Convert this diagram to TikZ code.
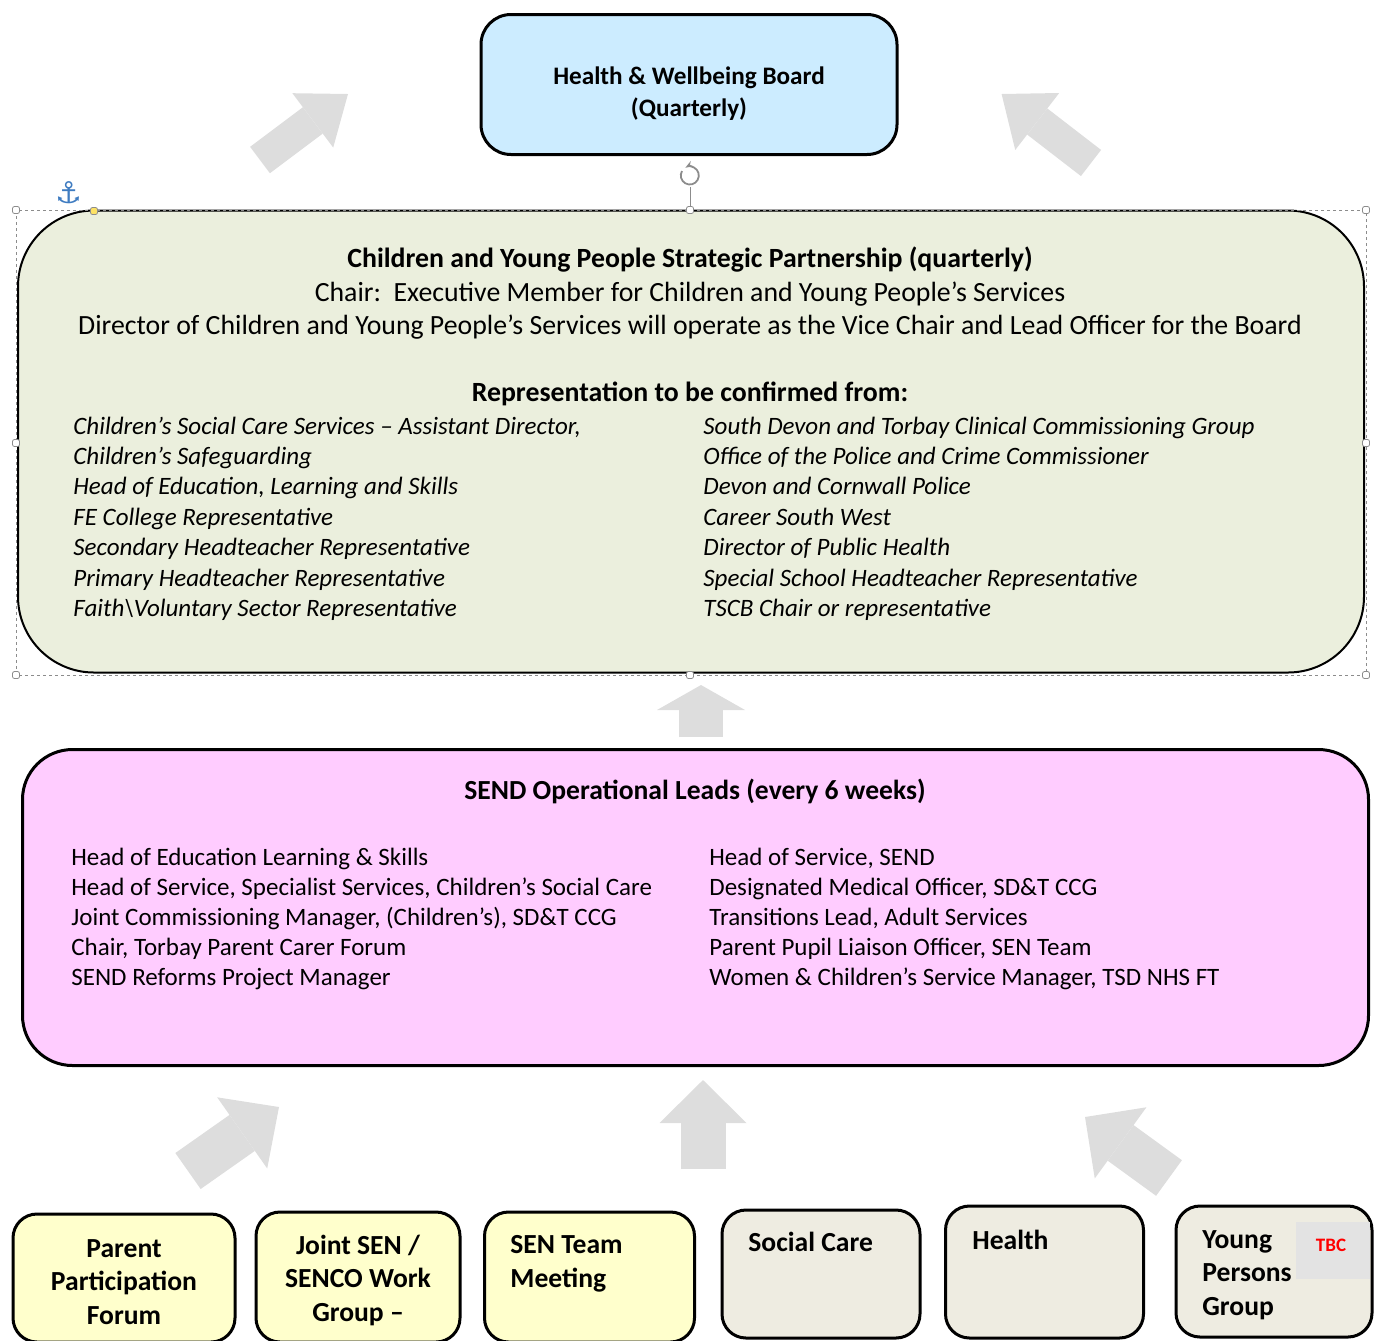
\documentclass[tikz,border=0pt]{standalone}
\usepackage{fontspec}
\setmainfont{Carlito}
\newfontfamily\symfont{DejaVu Sans}
\usetikzlibrary{arrows.meta}
\definecolor{boardblue}{HTML}{CCECFF}
\definecolor{cypgreen}{HTML}{EBEFDD}
\definecolor{sendpink}{HTML}{FFCCFF}
\definecolor{groupyellow}{HTML}{FFFFCC}
\definecolor{groupbeige}{HTML}{EEECE1}
\definecolor{arrowgray}{HTML}{DDDDDD}
\definecolor{handlegray}{HTML}{8C8C8C}
\definecolor{anchorblue}{HTML}{3F7CC1}
\definecolor{tbcgray}{HTML}{E3E3E3}

\begin{document}
\begin{tikzpicture}[x=0.5pt,y=-0.5pt,
	every node/.style={inner sep=0pt},
	box/.style={draw,line width=1.5pt,rounded corners=12pt},
	head/.style={font=\fontsize{13.9}{16}\selectfont,anchor=base},
	rep/.style={font=\itshape\fontsize{12.5}{14}\selectfont,anchor=base west},
	lead/.style={font=\fontsize{12.5}{14}\selectfont,anchor=base west},
	group/.style={font=\bfseries\fontsize{13.8}{16.75}\selectfont},
	fat/.style n args={3}{draw=arrowgray,line width=#1,-{Triangle[length=#2,width=#3,line width=0pt]}},
	handle/.style={draw=handlegray,fill=white,line width=0.4pt,minimum size=3.5pt,rounded corners=1pt}]
	\useasboundingbox (0,0) rectangle (1386,1340);
	\clip (0,0) rectangle (1386,1340);

	\node[box,fill=boardblue,rounded corners=15pt,minimum width=208pt,minimum height=70pt] (hwb) at (689,84.5) {};
	\node[align=center,anchor=base,font=\bfseries\fontsize{12.6}{16}\selectfont] (hwbt) at (689,116) {Health \& Wellbeing Board\\(Quarterly)};

	\node[box,fill=cypgreen,line width=1pt,rounded corners=38pt,minimum width=673pt,minimum height=231pt] (cyp) at (691,441.5) {};
	\node[head,font=\bfseries\fontsize{13.9}{16}\selectfont] (cyp1) at (690,267) {Children and Young People Strategic Partnership (quarterly)};
	\node[head] (cyp2) at (690,301) {Chair:\ \ Executive Member for Children and Young People’s Services};
	\node[head] (cyp3) at (690,334) {Director of Children and Young People’s Services will operate as the Vice Chair and Lead Officer for the Board};
	\node[head,font=\bfseries\fontsize{13.9}{16}\selectfont] (cyp4) at (690,401) {Representation to be confirmed from:};
	\foreach \t [count=\i] in {{Children’s Social Care Services – Assistant Director,},Children’s Safeguarding,{Head of Education, Learning and Skills},FE College Representative,Secondary Headteacher Representative,Primary Headteacher Representative,Faith\textbackslash Voluntary Sector Representative}
		\node[rep] (repl\i) at (73,{434+30.4*(\i-1)}) {\t};
	\foreach \t [count=\i] in {South Devon and Torbay Clinical Commissioning Group,Office of the Police and Crime Commissioner,Devon and Cornwall Police,Career South West,Director of Public Health,Special School Headteacher Representative,TSCB Chair or representative}
		\node[rep] (repr\i) at (703,{434+30.4*(\i-1)}) {\t};

	% selection frame
	\draw[handlegray,line width=0.4pt,dash pattern=on 1.5pt off 1.5pt] (16,210) rectangle (1366,675);
	\draw[handlegray,line width=0.4pt] (690,187) -- (690,210);
	\draw[handlegray,line width=0.9pt,-{Stealth[length=4pt]}] (682,171) arc (210:-120:9);
	\foreach \x/\y in {16/210,690/210,1366/210,16/443,1366/443,16/675,690/675,1366/675}
		\node[handle] at (\x,\y) {};
	\node[handle,fill=yellow!70!orange!60] (adj) at (94,211) {};
	\node[text=anchorblue,font=\symfont\fontsize{15}{15}\selectfont] (anc) at (69,193) {⚓};

	\node[box,fill=sendpink,rounded corners=25pt,minimum width=673pt,minimum height=158pt] (send) at (695.5,907.5) {};
	\node[head,font=\bfseries\fontsize{13.8}{16}\selectfont] (send1) at (695,799) {SEND Operational Leads (every 6 weeks)};
	\foreach \t [count=\i] in {Head of Education Learning \& Skills,{Head of Service, Specialist Services, Children’s Social Care},{Joint Commissioning Manager, (Children’s), SD\&T CCG},{Chair, Torbay Parent Carer Forum},SEND Reforms Project Manager}
		\node[lead] (ledl\i) at (71,{865+30*(\i-1)}) {\t};
	\foreach \t [count=\i] in {{Head of Service, SEND},{Designated Medical Officer, SD\&T CCG},{Transitions Lead, Adult Services},{Parent Pupil Liaison Officer, SEN Team},{Women \& Children’s Service Manager, TSD NHS FT}}
		\node[lead] (ledr\i) at (709,{865+30*(\i-1)}) {\t};

	\node[box,fill=groupyellow,minimum width=111pt,minimum height=64pt] (ppf) at (124,1278) {};
	\node[box,fill=groupyellow,minimum width=102pt,minimum height=65pt] (jsen) at (358,1277) {};
	\node[box,fill=groupyellow,minimum width=105pt,minimum height=65pt] (sent) at (589.5,1277) {};
	\node[box,fill=groupbeige,minimum width=99pt,minimum height=64pt] (soc) at (821,1274) {};
	\node[box,fill=groupbeige,minimum width=99pt,minimum height=66pt] (hlth) at (1044.5,1272) {};
	\node[box,fill=groupbeige,minimum width=98pt,minimum height=65.5pt] (ypg) at (1274,1271.5) {};
	\node[group,align=center,anchor=base] (ppft) at (124,1324) {Parent\\Participation\\Forum};
	\node[group,align=center,anchor=base] (jsent) at (358,1321) {Joint SEN /\\SENCO Work\\Group –};
	\node[group,align=left,anchor=base west] (sentt) at (510,1287) {SEN Team\\Meeting};
	\node[group,anchor=base west] (soct) at (748,1251) {Social Care};
	\node[group,anchor=base west] (hltht) at (972,1249) {Health};
	\node[group,align=left,anchor=base west] (ypgt) at (1202,1315) {Young\\Persons\\Group};
	\node[fill=tbcgray,minimum width=37pt,minimum height=28.5pt] (tbc) at (1333,1250.5) {};
	\node[text=red,font=\bfseries\fontsize{9.5}{9.5}\selectfont] (tbct) at (1331,1245) {TBC};

	\coordinate (t1) at (260,160);   \coordinate (h1) at (348,94);
	\coordinate (t2) at (1091,163);  \coordinate (h2) at (1001.6,94);
	\coordinate (t3) at (701,737);   \coordinate (h3) at (701,685);
	\coordinate (t4) at (188,1171);  \coordinate (h4) at (279,1107);
	\coordinate (t5) at (703,1169);  \coordinate (h5) at (703,1080);
	\coordinate (t6) at (1169,1178); \coordinate (h6) at (1085,1117);
	\draw[fat={16.5pt}{22pt}{34pt}] (t1) -- (h1);
	\draw[fat={16.5pt}{22.5pt}{36pt}] (t2) -- (h2);
	\draw[fat={22pt}{12.5pt}{44pt}] (t3) -- (h3);
	\draw[fat={22pt}{22.5pt}{43.5pt}] (t4) -- (h4);
	\draw[fat={22.5pt}{21.5pt}{43.5pt}] (t5) -- (h5);
	\draw[fat={22pt}{22pt}{44pt}] (t6) -- (h6);
\end{tikzpicture}
\end{document}
